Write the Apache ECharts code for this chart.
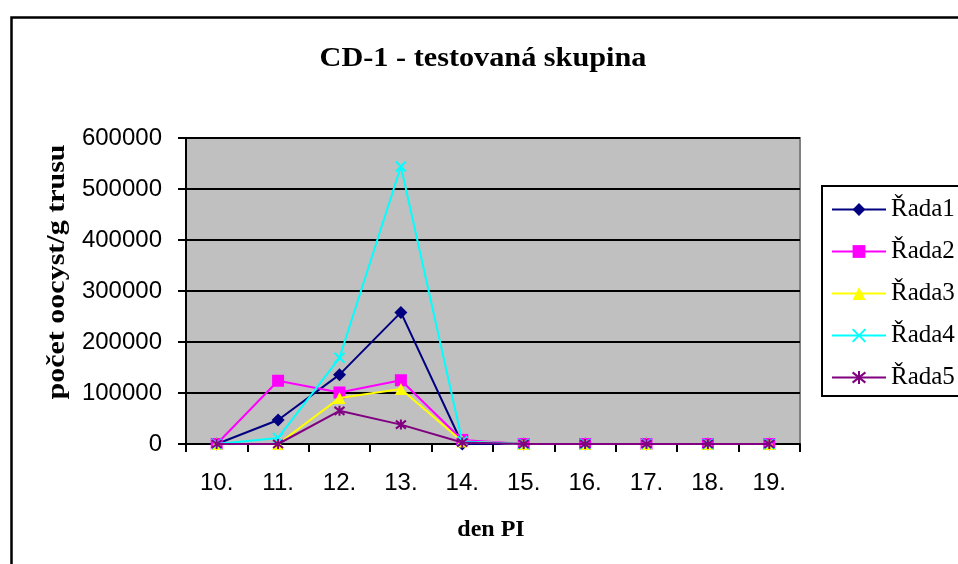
<!DOCTYPE html>
<html>
<head>
<meta charset="utf-8">
<script src="https://cdn.jsdelivr.net/npm/echarts@6/dist/echarts.min.js"></script>
<style>
  html, body { margin: 0; padding: 0; background: #fff; }
  #chart { width: 958px; height: 564px; }
</style>
</head>
<body>
<div id="chart"></div>
<script>
// Oocyst counts per gram of faeces, by day post infection
const days = ['10.', '11.', '12.', '13.', '14.', '15.', '16.', '17.', '18.', '19.'];
const rada1 = [0, 47000, 136000, 258000, 0, 0, 0, 0, 0, 0];
const rada2 = [0, 124000, 101000, 125000, 8000, 0, 0, 0, 0, 0];
const rada3 = [0, 0, 90000, 108000, 5000, 0, 0, 0, 0, 0];
const rada4 = [0, 12000, 169000, 544000, 5000, 0, 0, 0, 0, 0];
const rada5 = [0, 0, 65000, 38000, 3000, 0, 0, 0, 0, 0];
const yTicks = { min: 0, max: 600000, interval: 100000 };

const seriesNames = ['Řada1', 'Řada2', 'Řada3', 'Řada4', 'Řada5'];
const seriesData = [rada1, rada2, rada3, rada4, rada5];
const colors = ['#000080', '#FF00FF', '#FFFF00', '#00FFFF', '#800080'];
const symbols = [
  'diamond',
  'rect',
  'triangle',
  'path://M0,0L10,10M10,0L0,10',
  'path://M5,0L5,10M0,1L10,9M10,1L0,9'
];
const symbolSizes = [13, 12, 12, 10, 10];
const strokeOnly = [false, false, false, true, true];

const serif = '"Liberation Serif", "Times New Roman", serif';
const sans = '"Liberation Sans", Arial, sans-serif';

const chart = echarts.init(document.getElementById('chart'), null, { renderer: 'canvas' });

chart.setOption({
  animation: false,
  backgroundColor: '#ffffff',
  grid: {
    left: 186, right: 158, top: 138, bottom: 120,
    show: true,
    backgroundColor: '#C0C0C0',
    borderColor: '#808080',
    borderWidth: 2
  },
  legend: {
    orient: 'vertical',
    left: 831,
    top: 197,
    itemWidth: 54,
    itemHeight: 16,
    itemGap: 17,
    padding: 0,
    textStyle: { fontFamily: serif, fontSize: 25, lineHeight: 25, color: '#000' },
    data: seriesNames
  },
  xAxis: {
    type: 'category',
    data: days,
    boundaryGap: true,
    axisLine: { lineStyle: { color: '#000', width: 2 } },
    axisTick: { show: true, length: 8, lineStyle: { color: '#000', width: 2 } },
    axisLabel: { fontFamily: sans, fontSize: 24, color: '#000', margin: 27 },
    splitLine: { show: false }
  },
  yAxis: {
    type: 'value',
    min: yTicks.min,
    max: yTicks.max,
    interval: yTicks.interval,
    axisLine: { show: true, lineStyle: { color: '#000', width: 2 } },
    axisTick: { show: true, length: 8, lineStyle: { color: '#000', width: 2 } },
    axisLabel: {
      fontFamily: sans, fontSize: 24, color: '#000', margin: 24,
      formatter: v => String(v)
    },
    splitLine: { show: true, lineStyle: { color: '#000', width: 2 } }
  },
  graphic: [
    {
      type: 'rect',
      left: 9, top: 15,
      shape: { width: 1000, height: 600 },
      style: { fill: 'none', stroke: '#000', lineWidth: 2.5 },
      z: 0
    },
    {
      type: 'rect',
      left: 821, top: 185,
      shape: { width: 200, height: 210 },
      style: { fill: '#fff', stroke: '#000', lineWidth: 2 },
      z: 1
    },
    {
      type: 'text',
      x: 483, y: 59,
      scaleX: 1.12,
      style: {
        text: 'CD-1 - testovaná skupina',
        font: 'bold 27px ' + serif,
        fill: '#000',
        align: 'center',
        verticalAlign: 'middle'
      },
      z: 2
    },
    {
      type: 'text',
      x: 58, y: 272,
      rotation: Math.PI / 2,
      scaleX: 1.2,
      style: {
        text: 'počet oocyst/g trusu',
        font: 'bold 25px ' + serif,
        fill: '#000',
        align: 'center',
        verticalAlign: 'middle'
      },
      z: 2
    },
    {
      type: 'text',
      x: 491, y: 530,
      style: {
        text: 'den PI',
        font: 'bold 24px ' + serif,
        fill: '#000',
        align: 'center',
        verticalAlign: 'middle'
      },
      z: 2
    }
  ],
  series: seriesNames.map((name, i) => ({
    name: name,
    type: 'line',
    data: seriesData[i],
    symbol: symbols[i],
    symbolSize: symbolSizes[i],
    showSymbol: true,
    lineStyle: { color: colors[i], width: 2 },
    itemStyle: strokeOnly[i]
      ? { color: colors[i], borderColor: colors[i], borderWidth: 2 }
      : { color: colors[i], borderColor: colors[i], borderWidth: 0 },
    z: 3 + i
  }))
});
</script>
</body>
</html>
